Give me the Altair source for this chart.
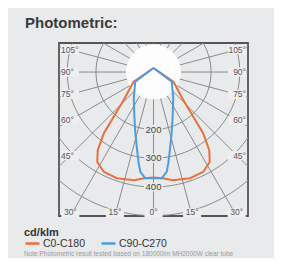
import altair as alt
import pandas as pd
import numpy as np

# ---------------- data (angle from nadir in degrees, intensity in cd/klm) -------------
series_names = ["C0-C180", "C90-C270"]
series_colors = ["#e8703c", "#4a9de0"]
c0_angles = [0, 5, 10, 19, 26.5, 32, 35.5, 39, 41.7, 46.8, 64, 180]
c0_values = [367, 371, 382, 391, 388, 369, 334, 275, 208, 142, 77, 14]
c90_angles = [0, 4.4, 7.5, 9.2, 11.9, 16.5, 23.2, 37, 62, 180]
c90_values = [370, 371, 350, 322, 277, 222, 169, 114, 72, 14]

ring_values = [200, 300, 400, 500, 600]
ring_label_values = [200, 300, 400]
spoke_angles = list(range(-180, 181, 15))
side_label_angles = [45, 60, 75, 90, 105]
bottom_label_angles = [-30, -15, 0, 15, 30]

title_text = "Photometric:"
unit_text = "cd/klm"
note_text = "Note:Photometric result tested based on 180000lm MH2000W clear tube"

# ---------------- layout ----------------
W, H = 189, 173
XH = 328.7
YTOP, YBOT = 101, -501
BG = "#e9eaec"
GRID = "#8a8a8a"
FONT = "Liberation Sans"
LABEL_PULL = 1.13  # side labels sit a little closer to the 90° line than the spoke ends

xs = alt.Scale(domain=[-XH, XH], zero=False, nice=False)
ys = alt.Scale(domain=[YBOT, YTOP], zero=False, nice=False)

# curves: mirror each half to a full closed path
rows = []
for name, angs, vals in [(series_names[0], c0_angles, c0_values),
                         (series_names[1], c90_angles, c90_values)]:
    k = 0
    for a, v in zip(angs[::-1], vals[::-1]):
        rows.append(dict(series=name, order=k, angle=-a, value=v)); k += 1
    for a, v in zip(angs[1:], vals[1:]):
        rows.append(dict(series=name, order=k, angle=a, value=v)); k += 1
curves = pd.DataFrame(rows)

ring_rows = []
for r in ring_values:
    for i, a in enumerate(range(0, 361, 3)):
        ring_rows.append(dict(ring=r, order=i, angle=a, value=r))
rings = pd.DataFrame(ring_rows)

spokes = pd.DataFrame(dict(angle=spoke_angles))

xcalc = "datum.value*sin(datum.angle*PI/180)"
ycalc = "-datum.value*cos(datum.angle*PI/180)"

ring_layer = alt.Chart(rings).transform_calculate(x=xcalc, y=ycalc).mark_line(
    clip=True, color=GRID, strokeWidth=1
).encode(
    x=alt.X("x:Q", scale=xs, axis=None),
    y=alt.Y("y:Q", scale=ys, axis=None),
    detail="ring:N", order="order:Q")

spoke_layer = alt.Chart(spokes).transform_calculate(
    x0="0", y0="0",
    x2="1200*sin(datum.angle*PI/180)", y2="-1200*cos(datum.angle*PI/180)"
).mark_rule(clip=True, color=GRID, strokeWidth=1).encode(
    x=alt.X("x0:Q", scale=xs, axis=None), y=alt.Y("y0:Q", scale=ys, axis=None),
    x2="x2:Q", y2="y2:Q")

disk = alt.Chart(pd.DataFrame(dict(x=[0], y=[0]))).mark_point(
    shape="circle", filled=True, fill="#fdfdfd", opacity=1, size=3025, strokeWidth=0
).encode(x=alt.X("x:Q", scale=xs, axis=None), y=alt.Y("y:Q", scale=ys, axis=None))

# ring labels
rl = pd.DataFrame(dict(value=ring_label_values, label=[str(v) for v in ring_label_values]))
rl["angle"] = 0
ring_lab_bg = alt.Chart(rl).transform_calculate(x=xcalc, y=ycalc).mark_point(
    shape="M-1.9,-0.9L1.9,-0.9L1.9,0.9L-1.9,0.9Z", filled=True, fill=BG, opacity=1,
    size=100, strokeWidth=0
).encode(x=alt.X("x:Q", scale=xs, axis=None), y=alt.Y("y:Q", scale=ys, axis=None))
ring_lab = alt.Chart(rl).transform_calculate(x=xcalc, y=ycalc).mark_text(
    font=FONT, fontSize=9.5, color="#444", baseline="middle", align="center"
).encode(x=alt.X("x:Q", scale=xs, axis=None), y=alt.Y("y:Q", scale=ys, axis=None),
         text="label:N")

# side angle labels (placed near where each spoke meets the frame)
def side_df(sign):
    a = np.array(side_label_angles, dtype=float)
    return pd.DataFrame(dict(
        x=[sign * XH] * len(a),
        y=-XH / LABEL_PULL * np.cos(np.radians(a)) / np.sin(np.radians(a)),
        label=[f"{int(v)}°" for v in a]))

def bottom_df():
    a = np.array(bottom_label_angles, dtype=float)
    return pd.DataFrame(dict(
        x=-YBOT * np.tan(np.radians(a)),
        y=[YBOT] * len(a),
        label=[f"{abs(int(v))}°" for v in a]))

def lab_layers(df, align, dx, dy, baseline, bgx, bgy):
    bg = alt.Chart(df).mark_point(
        shape="M-2,-1L2,-1L2,1L-2,1Z", filled=True, fill="#efeff1", opacity=1,
        size=81, strokeWidth=0, xOffset=bgx, yOffset=bgy
    ).encode(x=alt.X("x:Q", scale=xs, axis=None), y=alt.Y("y:Q", scale=ys, axis=None))
    tx = alt.Chart(df).mark_text(
        font=FONT, fontSize=8.5, color="#555", align=align, dx=dx, dy=dy,
        baseline=baseline
    ).encode(x=alt.X("x:Q", scale=xs, axis=None), y=alt.Y("y:Q", scale=ys, axis=None),
             text="label:N")
    return [bg, tx]

left_l = lab_layers(side_df(-1), "left", 2, 0, "middle", 11, 0)
right_l = lab_layers(side_df(1), "right", -2, 0, "middle", -11, 0)
bot_l = lab_layers(bottom_df(), "center", 0, 1, "bottom", 0, -3)

curve_layer = alt.Chart(curves).transform_calculate(x=xcalc, y=ycalc).mark_line(
    strokeWidth=2, clip=True
).encode(
    x=alt.X("x:Q", scale=xs, axis=None),
    y=alt.Y("y:Q", scale=ys, axis=None),
    color=alt.Color("series:N", scale=alt.Scale(domain=series_names, range=series_colors),
                    legend=alt.Legend(
                        title=unit_text, orient="none", legendX=-35, legendY=184,
                        direction="horizontal", symbolType="stroke", symbolSize=196,
                        symbolStrokeWidth=2.5, labelFont=FONT, labelFontSize=10.5,
                        labelColor="#333", titleFont=FONT, titleFontSize=11,
                        titleFontWeight="bold", titleColor="#333", titlePadding=-3,
                        labelOffset=2, columnPadding=10, padding=0)),
    order="order:Q")

title_layer = alt.Chart(pd.DataFrame(dict(t=[title_text]))).mark_text(
    font=FONT, fontSize=15, fontWeight="bold", color="#3a3a3a", align="left",
    baseline="alphabetic"
).encode(x=alt.value(-34), y=alt.value(-15), text="t:N")

note_layer = alt.Chart(pd.DataFrame(dict(t=[note_text]))).mark_text(
    font=FONT, fontSize=6.5, color="#9a9a9a", align="left", baseline="middle"
).encode(x=alt.value(-35), y=alt.value(211), text="t:N")

chart = alt.layer(
    ring_layer, spoke_layer, disk, ring_lab_bg, ring_lab,
    *left_l, *right_l, *bot_l, curve_layer, title_layer, note_layer
).properties(
    width=W, height=H,
    autosize=alt.AutoSizeParams(type="none"),
    padding={"left": 51, "top": 35, "right": 26, "bottom": 42},
    background=BG
).configure_view(stroke="#555555", strokeWidth=1.8, fill=BG)

chart.save("out.html", embed_options={"renderer": "svg", "actions": False})
